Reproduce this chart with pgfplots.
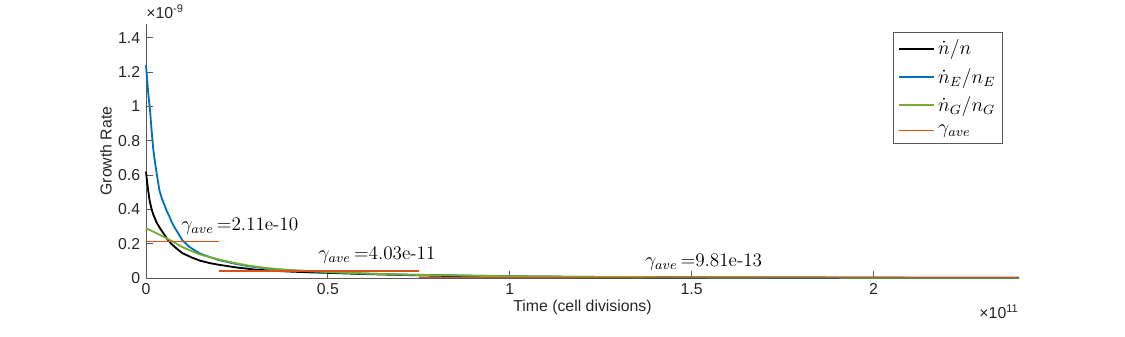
\documentclass[border=0pt]{standalone}
\usepackage{fontspec}
\setsansfont{Liberation Sans}
\usepackage{pgfplots}
\pgfplotsset{compat=1.18}

\definecolor{mblue}{rgb}{0,0.447,0.741}
\definecolor{mgreen}{rgb}{0.466,0.674,0.188}
\definecolor{morange}{rgb}{0.85,0.325,0.098}
\definecolor{maxis}{rgb}{0.35,0.35,0.35}

\begin{document}
\begin{tikzpicture}
\begin{axis}[
  scale only axis,
  width=523.8pt, height=152.4pt,
  xmin=0, xmax=2.4, ymin=0, ymax=1.48,
  axis x line*=bottom, axis y line*=left,
  axis line style={draw=maxis, line width=0.5pt},
  tick align=inside, major tick length=4pt,
  tick style={draw=maxis, line width=0.5pt},
  xtick={0,0.5,1,1.5,2},
  ytick={0,0.2,0.4,0.6,0.8,1,1.2,1.4},
  /pgf/number format/assume math mode=true,
  tick label style={font=\sffamily\fontsize{9.5}{11}\selectfont, text=black!85},
  label style={font=\sffamily\fontsize{9.5}{11}\selectfont, text=black!85},
  xlabel={Time (cell divisions)},
  ylabel={Growth Rate},
  xlabel style={yshift=4pt},
  ylabel style={yshift=-3pt},
  legend style={at={(0.982,0.969)}, anchor=north east, draw=maxis,
    line width=0.6pt, font=\fontsize{12}{14}\selectfont,
    row sep=2.5pt, inner sep=2.5pt},
  legend cell align=left,
  legend image code/.code={\draw[#1] (0pt,0pt) -- (21pt,0pt);},
  clip=false,
]
\addplot[black, line width=1.1pt] coordinates {
  (0,0.62) (0.003,0.56) (0.006,0.51) (0.01,0.45) (0.015,0.405) (0.02,0.37)
  (0.03,0.32) (0.04,0.285) (0.048,0.26) (0.058,0.228) (0.069,0.20) (0.085,0.17)
  (0.1,0.145) (0.125,0.12) (0.15,0.10) (0.175,0.087) (0.2,0.077) (0.25,0.061)
  (0.3,0.049) (0.35,0.042) (0.4,0.037) (0.45,0.033)
  (0.5,0.030) (0.6,0.023) (0.7,0.018) (0.8,0.013) (0.9,0.010) (1.0,0.008)
  (1.2,0.005) (1.5,0.003) (2.0,0.0015) (2.4,0.001)};
\addlegendentry{$\dot{n}/n$}
\addplot[mblue, line width=1.1pt] coordinates {
  (0,1.24) (0.003,1.16) (0.006,1.08) (0.011,0.98) (0.015,0.87) (0.02,0.75)
  (0.025,0.67) (0.03,0.60) (0.037,0.51) (0.044,0.46) (0.05,0.43) (0.057,0.39)
  (0.064,0.36) (0.072,0.32) (0.08,0.29) (0.09,0.255) (0.1,0.22) (0.12,0.18)
  (0.147,0.144) (0.175,0.122) (0.2,0.105) (0.238,0.086) (0.28,0.069)
  (0.33,0.056) (0.4,0.044) (0.5,0.034) (0.6,0.026) (0.7,0.020) (0.826,0.016)
  (1.0,0.010) (1.25,0.006) (1.5,0.004) (2.0,0.002) (2.4,0.0015)};
\addlegendentry{$\dot{n}_E/n_E$}
\addplot[mgreen, line width=1.1pt] coordinates {
  (0,0.29) (0.015,0.275) (0.03,0.26) (0.05,0.238) (0.069,0.218) (0.085,0.198)
  (0.1,0.18) (0.125,0.157) (0.147,0.138) (0.175,0.122) (0.2,0.108)
  (0.238,0.090) (0.28,0.073) (0.33,0.058) (0.4,0.045) (0.5,0.035) (0.6,0.026)
  (0.7,0.020) (0.8,0.016) (1.0,0.010) (1.25,0.006) (1.5,0.004) (2.0,0.002)
  (2.4,0.0012)};
\addlegendentry{$\dot{n}_G/n_G$}
\addplot[draw=morange, line width=0.7pt] coordinates {(0,0.211) (0.2,0.211)};
\addlegendentry{$\gamma_{ave}$}
\addplot[draw=morange, line width=0.7pt, forget plot] coordinates {(0.2,0.0403) (0.75,0.0403)};
\addplot[draw=morange, line width=0.7pt, forget plot] coordinates {(0.75,0.00098) (2.4,0.00098)};

\node[anchor=west, font=\fontsize{11.5}{13}\selectfont, inner sep=0pt] at (axis cs:0.096,0.305) {$\gamma_{ave}$\,=2.11e-10};
\node[anchor=west, font=\fontsize{11.5}{13}\selectfont, inner sep=0pt] at (axis cs:0.473,0.132) {$\gamma_{ave}$\,=4.03e-11};
\node[anchor=west, font=\fontsize{11.5}{13}\selectfont, inner sep=0pt] at (axis cs:1.371,0.092) {$\gamma_{ave}$\,=9.81e-13};

\node[anchor=south west, font=\sffamily\fontsize{9.5}{11}\selectfont, text=black!85, inner sep=0pt] at (rel axis cs:0,1) [yshift=3pt] {×10\textsuperscript{-9}};
\node[anchor=north east, font=\sffamily\fontsize{9.5}{11}\selectfont, text=black!85, inner sep=0pt] at (rel axis cs:1,0) [yshift=-16pt] {×10\textsuperscript{11}};
\end{axis}
\pgfresetboundingbox
\path[use as bounding box] (-87.6pt,-35.4pt) rectangle (587.4pt,166.8pt);
\end{tikzpicture}
\end{document}
